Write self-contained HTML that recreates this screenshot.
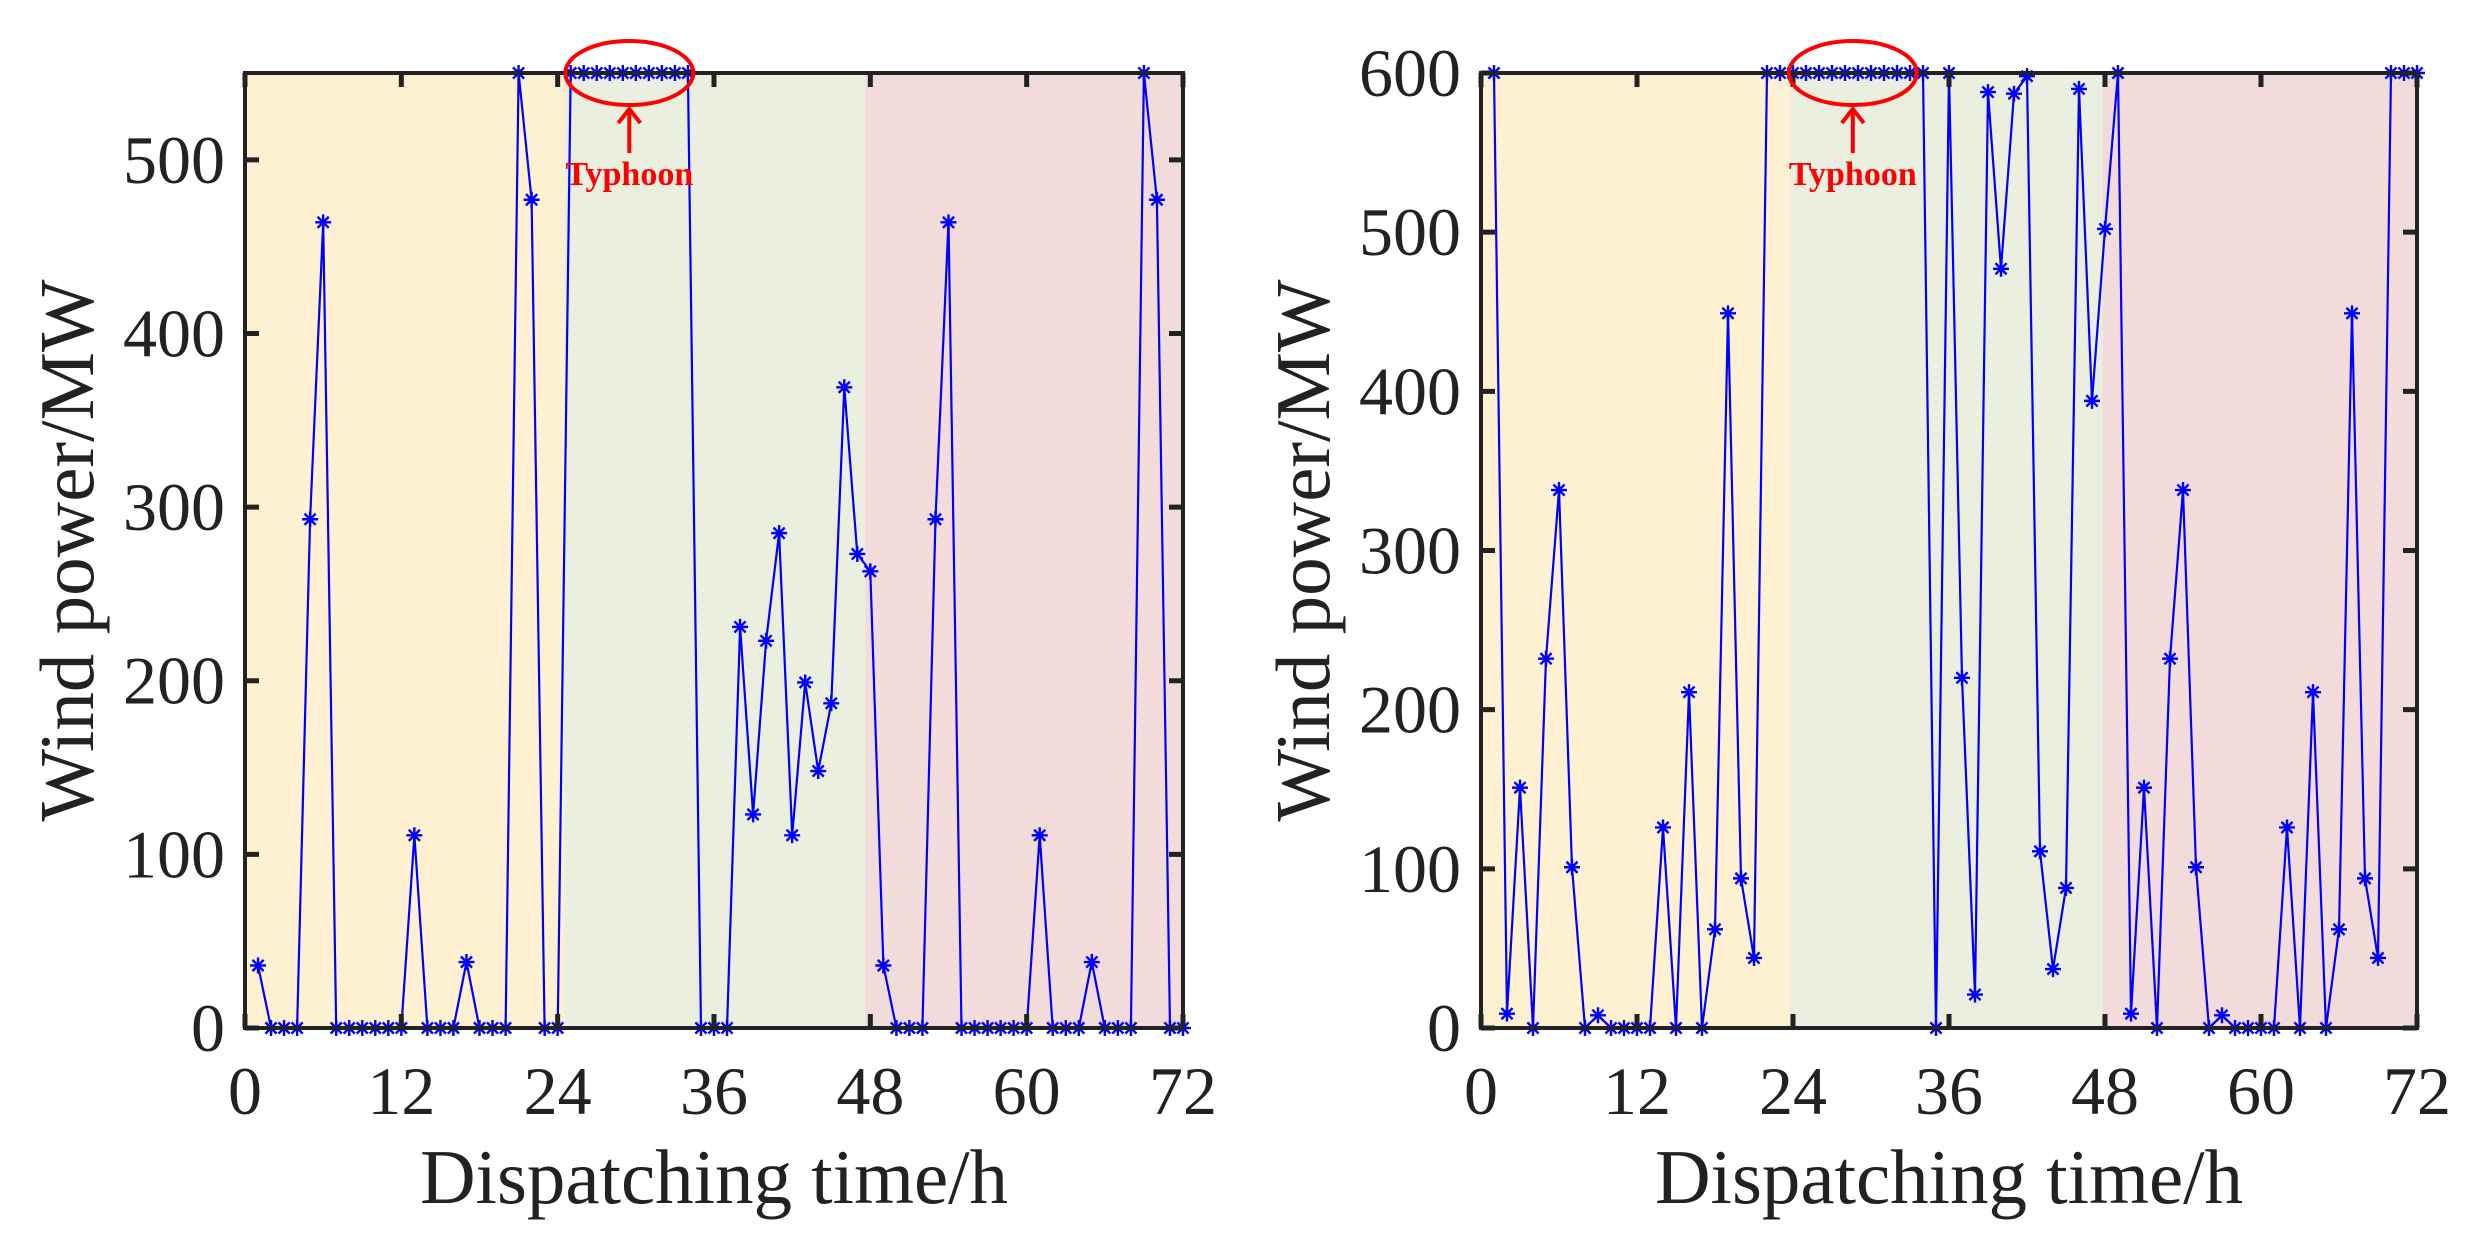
<!DOCTYPE html>
<html><head><meta charset="utf-8"><style>
html,body{margin:0;padding:0;background:#fff}
svg{display:block}
text{font-family:"Liberation Serif",serif;fill:#222}
</style></head><body>
<svg id="chart" width="2480" height="1254" viewBox="0 0 2480 1254" xmlns="http://www.w3.org/2000/svg"></svg>
<script>
const hours = Array.from({length:72},(_,i)=>i+1);
const leftValues = [36,0,0,0,293,464,0,0,0,0,0,0,111,0,0,0,38,0,0,0,550,477,0,0,
550,550,550,550,550,550,550,550,550,550,0,0,0,231,123,223,285,111,199,148,187,369,273,263,
36,0,0,0,293,464,0,0,0,0,0,0,111,0,0,0,38,0,0,0,550,477,0,0];
const rightValues = [600,9,151,0,232,338,101,0,8,0,0,0,0,126,0,211,0,62,449,94,44,600,600,600,
600,600,600,600,600,600,600,600,600,600,0,600,220,21,588,477,587,598,111,37,88,590,394,502,
600,9,151,0,232,338,101,0,8,0,0,0,0,126,0,211,0,62,449,94,44,600,600,600];
const xTicks = [0,12,24,36,48,60,72];
const leftYTicks = [0,100,200,300,400,500];
const rightYTicks = [0,100,200,300,400,500,600];
const periods = [[0,24,'#fdf1d2'],[24,48,'#ebefdf'],[48,72,'#f1dcdb']];

const svg=document.getElementById('chart');
const NS='http://www.w3.org/2000/svg';
function mk(tag,attrs,parent){const e=document.createElementNS(NS,tag);for(const k in attrs)e.setAttribute(k,attrs[k]);(parent||svg).appendChild(e);return e;}

function drawPanel(id,X0,X1,Y0,Y1,ymax,vals,yTicks,bgBounds,typhoonCenterHour){
  const g=mk('g',{});
  
  
  const sx=v=>X0+(v/72)*(X1-X0);
  const sy=v=>Y0-(v/ymax)*(Y0-Y1);
  periods.forEach((p,i)=>{
    const a=bgBounds[i],b=bgBounds[i+1];
    const r=mk('rect',{x:sx(a),y:Y1,width:sx(b)-sx(a),height:Y0-Y1,fill:p[2]},g);
    
    
  });
  let d='';
  vals.forEach((v,i)=>{d+=(i?'L':'M')+sx(hours[i]).toFixed(1)+','+sy(v).toFixed(1);});
  const line=mk('path',{d:d,fill:'none',stroke:'#0000ff','stroke-width':2.2},g);
  
  
  vals.forEach((v,i)=>{
    const x=sx(hours[i]),y=sy(v),r=8;
    const m=mk('path',{d:`M${x-r},${y}H${x+r}M${x},${y-r}V${y+r}M${x-r*0.7},${y-r*0.7}L${x+r*0.7},${y+r*0.7}M${x-r*0.7},${y+r*0.7}L${x+r*0.7},${y-r*0.7}`,stroke:'#0000ff','stroke-width':2.4,fill:'none'},g);
    
    
  });
  const fr=mk('rect',{x:X0,y:Y1,width:X1-X0,height:Y0-Y1,fill:'none',stroke:'#222','stroke-width':4},g);
  
  
  xTicks.forEach(t=>{
    const x=sx(t);
    mk('path',{d:`M${x},${Y0}v-14M${x},${Y1}v14`,stroke:'#222','stroke-width':5},g);
    const tx=mk('text',{x:x,y:Y0+86,'font-size':68,'text-anchor':'middle'},g);
    tx.textContent=t;
    
    
  });
  yTicks.forEach(t=>{
    const y=sy(t);
    mk('path',{d:`M${X0},${y}h14M${X1},${y}h-14`,stroke:'#222','stroke-width':5},g);
    const tx=mk('text',{x:X0-20,y:y+23,'font-size':68,'text-anchor':'end'},g);
    tx.textContent=t;
    
    
  });
  const xl=mk('text',{x:(X0+X1)/2,y:1203,'font-size':77,'text-anchor':'middle'},g);
  xl.textContent='Dispatching time/h';
  
  
  const ycx=X0-152;
  const yl=mk('text',{x:ycx,y:(Y0+Y1)/2,'font-size':77,'text-anchor':'middle',transform:`rotate(-90 ${ycx} ${(Y0+Y1)/2})`},g);
  yl.textContent='Wind power/MW';
  
  
  const cx=sx(typhoonCenterHour);
  const el=mk('ellipse',{cx:cx,cy:Y1,rx:64,ry:32,fill:'none',stroke:'#ff0000','stroke-width':4},g);
  
  
  const ar=mk('path',{d:`M${cx},${Y1+80}V${Y1+36}M${cx-11},${Y1+50}L${cx},${Y1+36}L${cx+11},${Y1+50}`,stroke:'#ff0000','stroke-width':4,fill:'none'},g);
  
  
  const tt=mk('text',{x:cx,y:Y1+112,'font-size':34,'font-weight':'bold','text-anchor':'middle',style:'fill:#ff0000'},g);
  tt.textContent='Typhoon';
  
  
}
drawPanel('left',245,1183,1028,73,550,leftValues,leftYTicks,[0,24.5,47.6,72],29.5);
drawPanel('right',1481,2417,1028,73,600,rightValues,rightYTicks,[0,23.8,47.8,72],28.6);
</script>
</body></html>
